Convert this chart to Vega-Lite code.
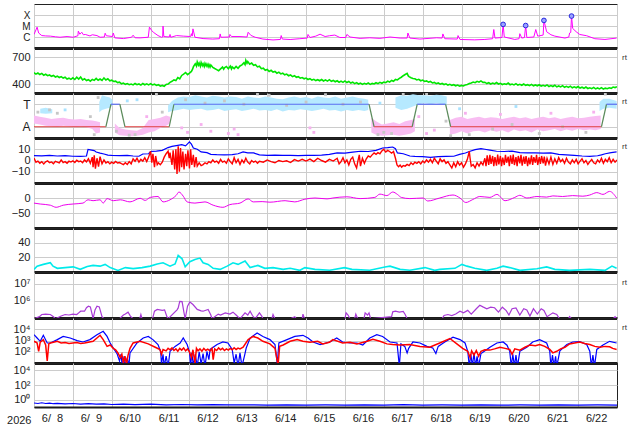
{
"$schema":"https://vega.github.io/schema/vega-lite/v6.json",
"padding":{"left":6,"top":3,"right":17,"bottom":0},
"background":"white",
"spacing":0,
"bounds":"flush",
"config":{
 "font":"Liberation Sans",
 "view":{"stroke":"#222","strokeWidth":1},
 "axis":{"ticks":false,"domain":false,"labelFont":"Liberation Sans","labelFontSize":11,"labelColor":"#222","gridColor":"#cccccc","gridWidth":1,"labelPadding":4,"titleFont":"Liberation Sans","labelOverlap":false},
 "axisX":{"domain":true,"domainColor":"#1a1a1a","domainWidth":3,"labels":false,"grid":true},
 "axisY":{"grid":true,"labelOverlap":false},
 "text":{"font":"Liberation Sans"},
 "legend":{"disable":true}
},
"datasets":{
"rt":[{"p":2,"d":23,"v":690},{"p":3,"d":23,"v":3.2},{"p":4,"d":23,"v":11.7},{"p":7,"d":23,"v":11700000},{"p":8,"d":23,"v":13000}],
"xray":[{"d":8.0,"v":1.7e-6},{"d":8.08,"v":7.9e-6},{"d":8.12,"v":2.3e-6},{"d":8.2,"v":1.35e-6},{"d":8.3,"v":1.25e-6},{"d":8.42,"v":1.2e-6},{"d":8.55,"v":1.05e-6},{"d":8.67,"v":9.5e-7},{"d":8.85,"v":1.1e-6},{"d":9.01,"v":9.5e-7},{"d":9.13,"v":1.3e-6},{"d":9.14,"v":3.4e-6},{"d":9.18,"v":1.8e-6},{"d":9.23,"v":2.7e-6},{"d":9.27,"v":1.6e-6},{"d":9.32,"v":1.7e-6},{"d":9.44,"v":1.25e-6},{"d":9.5,"v":1.6e-6},{"d":9.62,"v":1.35e-6},{"d":9.7,"v":9.5e-7},{"d":9.81,"v":1.0e-6},{"d":9.83,"v":2.2e-6},{"d":9.86,"v":1.3e-6},{"d":10.02,"v":1.1e-6},{"d":10.04,"v":2.3e-6},{"d":10.08,"v":8.3e-7},{"d":10.3,"v":7.2e-7},{"d":10.51,"v":9.5e-7},{"d":10.55,"v":1.45e-6},{"d":10.6,"v":8.5e-7},{"d":10.73,"v":8.3e-7},{"d":10.94,"v":9.5e-7},{"d":10.97,"v":7.9e-6},{"d":11.03,"v":3.8e-6},{"d":11.07,"v":2.7e-6},{"d":11.19,"v":1.35e-6},{"d":11.28,"v":9.5e-7},{"d":11.31,"v":1.0e-6},{"d":11.32,"v":9.8e-6},{"d":11.34,"v":1.1e-6},{"d":11.48,"v":1.0e-6},{"d":11.5,"v":1.7e-6},{"d":11.52,"v":9.5e-7},{"d":11.67,"v":1.35e-6},{"d":11.84,"v":1.2e-6},{"d":12.03,"v":1.1e-6},{"d":12.05,"v":2.0e-6},{"d":12.07,"v":1.2e-6},{"d":12.09,"v":5.5e-6},{"d":12.14,"v":9.5e-7},{"d":12.35,"v":7.2e-7},{"d":12.6,"v":6.5e-7},{"d":12.77,"v":7e-7},{"d":12.79,"v":1.9e-6},{"d":12.81,"v":9.5e-7},{"d":13.03,"v":1.0e-6},{"d":13.04,"v":1.7e-6},{"d":13.08,"v":1.1e-6},{"d":13.3,"v":1.1e-6},{"d":13.48,"v":1.0e-6},{"d":13.51,"v":2.7e-6},{"d":13.58,"v":1.4e-6},{"d":13.69,"v":9.5e-7},{"d":13.89,"v":6.5e-7},{"d":14.15,"v":5.4e-7},{"d":14.34,"v":6e-7},{"d":14.36,"v":1.35e-6},{"d":14.39,"v":6.5e-7},{"d":14.59,"v":5.9e-7},{"d":14.84,"v":7e-7},{"d":15.03,"v":8e-7},{"d":15.05,"v":1.7e-6},{"d":15.1,"v":9e-7},{"d":15.25,"v":1.2e-6},{"d":15.36,"v":1.8e-6},{"d":15.49,"v":1.1e-6},{"d":15.6,"v":1.3e-6},{"d":15.74,"v":1.5e-6},{"d":15.87,"v":9e-7},{"d":16.02,"v":9e-7},{"d":16.05,"v":1.7e-6},{"d":16.13,"v":1.0e-6},{"d":16.39,"v":7.5e-7},{"d":16.64,"v":8.5e-7},{"d":16.9,"v":7.5e-7},{"d":17.16,"v":1.0e-6},{"d":17.42,"v":8e-7},{"d":17.6,"v":8e-7},{"d":17.62,"v":2.3e-6},{"d":17.67,"v":8e-7},{"d":17.93,"v":6.5e-7},{"d":18.36,"v":8.5e-7},{"d":18.5,"v":8e-7},{"d":18.52,"v":1.9e-6},{"d":18.57,"v":7e-7},{"d":18.89,"v":6.5e-7},{"d":18.91,"v":1.35e-6},{"d":18.96,"v":6e-7},{"d":19.34,"v":5.5e-7},{"d":19.6,"v":6e-7},{"d":19.8,"v":7e-7},{"d":19.83,"v":4.8e-6},{"d":19.86,"v":8e-7},{"d":20.04,"v":9e-7},{"d":20.07,"v":1.4e-5},{"d":20.1,"v":1.0e-6},{"d":20.37,"v":6e-7},{"d":20.48,"v":7e-7},{"d":20.5,"v":2.0e-6},{"d":20.55,"v":8e-7},{"d":20.62,"v":9e-7},{"d":20.65,"v":1.1e-5},{"d":20.68,"v":9e-7},{"d":20.86,"v":1.0e-6},{"d":20.91,"v":4.8e-6},{"d":20.96,"v":1.2e-6},{"d":21.1,"v":1.5e-6},{"d":21.12,"v":3.2e-5},{"d":21.19,"v":3e-6},{"d":21.3,"v":1.6e-6},{"d":21.4,"v":1.2e-6},{"d":21.66,"v":8e-7},{"d":21.76,"v":1.0e-6},{"d":21.78,"v":2.3e-6},{"d":21.81,"v":2.6e-6},{"d":21.83,"v":8e-5},{"d":21.86,"v":6e-6},{"d":21.95,"v":3e-6},{"d":22.04,"v":1.7e-6},{"d":22.22,"v":1.3e-6},{"d":22.43,"v":7e-7},{"d":22.69,"v":6e-7},{"d":22.99,"v":8e-7}],
"flares":[{"d":20.07,"v":1.4e-5},{"d":20.65,"v":1.1e-5},{"d":21.12,"v":3.2e-5},{"d":21.83,"v":8e-5}],
"wind":[{"d":8.0,"v":525},{"d":8.05,"v":510},{"d":8.1,"v":522},{"d":8.15,"v":505},{"d":8.2,"v":518},{"d":8.25,"v":498},{"d":8.3,"v":508},{"d":8.35,"v":492},{"d":8.4,"v":500},{"d":8.45,"v":485},{"d":8.5,"v":495},{"d":8.55,"v":478},{"d":8.6,"v":487},{"d":8.65,"v":472},{"d":8.7,"v":482},{"d":8.75,"v":466},{"d":8.8,"v":476},{"d":8.85,"v":455},{"d":8.9,"v":465},{"d":8.95,"v":452},{"d":9.0,"v":468},{"d":9.05,"v":450},{"d":9.1,"v":475},{"d":9.15,"v":455},{"d":9.2,"v":478},{"d":9.25,"v":445},{"d":9.3,"v":458},{"d":9.35,"v":438},{"d":9.4,"v":448},{"d":9.45,"v":432},{"d":9.5,"v":450},{"d":9.55,"v":440},{"d":9.6,"v":462},{"d":9.65,"v":442},{"d":9.7,"v":455},{"d":9.75,"v":440},{"d":9.8,"v":468},{"d":9.85,"v":445},{"d":9.9,"v":458},{"d":9.95,"v":435},{"d":10.0,"v":442},{"d":10.05,"v":428},{"d":10.1,"v":432},{"d":10.15,"v":415},{"d":10.2,"v":420},{"d":10.25,"v":402},{"d":10.3,"v":410},{"d":10.35,"v":396},{"d":10.4,"v":405},{"d":10.45,"v":392},{"d":10.5,"v":400},{"d":10.55,"v":390},{"d":10.6,"v":406},{"d":10.65,"v":392},{"d":10.7,"v":400},{"d":10.75,"v":388},{"d":10.8,"v":406},{"d":10.85,"v":392},{"d":10.9,"v":402},{"d":10.95,"v":390},{"d":11.0,"v":404},{"d":11.05,"v":390},{"d":11.1,"v":398},{"d":11.15,"v":384},{"d":11.2,"v":392},{"d":11.25,"v":376},{"d":11.3,"v":384},{"d":11.35,"v":375},{"d":11.4,"v":395},{"d":11.45,"v":400},{"d":11.5,"v":418},{"d":11.55,"v":430},{"d":11.6,"v":445},{"d":11.65,"v":438},{"d":11.7,"v":472},{"d":11.75,"v":458},{"d":11.8,"v":495},{"d":11.85,"v":510},{"d":11.9,"v":528},{"d":11.95,"v":505},{"d":12.0,"v":522},{"d":12.05,"v":540},{"d":12.08,"v":565},{"d":12.1,"v":590},{"d":12.13,"v":612},{"d":12.15,"v":625},{"d":12.18,"v":600},{"d":12.2,"v":645},{"d":12.23,"v":610},{"d":12.25,"v":632},{"d":12.28,"v":598},{"d":12.3,"v":638},{"d":12.33,"v":605},{"d":12.35,"v":625},{"d":12.38,"v":595},{"d":12.4,"v":628},{"d":12.43,"v":600},{"d":12.45,"v":622},{"d":12.48,"v":592},{"d":12.5,"v":618},{"d":12.53,"v":588},{"d":12.55,"v":610},{"d":12.6,"v":585},{"d":12.65,"v":572},{"d":12.7,"v":560},{"d":12.75,"v":548},{"d":12.8,"v":568},{"d":12.85,"v":588},{"d":12.88,"v":565},{"d":12.9,"v":580},{"d":12.95,"v":595},{"d":13.0,"v":570},{"d":13.05,"v":598},{"d":13.08,"v":568},{"d":13.1,"v":590},{"d":13.15,"v":572},{"d":13.2,"v":596},{"d":13.25,"v":575},{"d":13.3,"v":600},{"d":13.35,"v":612},{"d":13.4,"v":635},{"d":13.43,"v":615},{"d":13.45,"v":662},{"d":13.48,"v":630},{"d":13.5,"v":650},{"d":13.55,"v":620},{"d":13.6,"v":632},{"d":13.65,"v":608},{"d":13.7,"v":615},{"d":13.75,"v":590},{"d":13.8,"v":598},{"d":13.85,"v":570},{"d":13.9,"v":575},{"d":13.95,"v":552},{"d":14.0,"v":562},{"d":14.05,"v":540},{"d":14.1,"v":552},{"d":14.15,"v":532},{"d":14.2,"v":540},{"d":14.25,"v":520},{"d":14.3,"v":532},{"d":14.35,"v":512},{"d":14.4,"v":520},{"d":14.45,"v":502},{"d":14.5,"v":510},{"d":14.55,"v":492},{"d":14.6,"v":500},{"d":14.65,"v":482},{"d":14.7,"v":492},{"d":14.75,"v":475},{"d":14.8,"v":482},{"d":14.85,"v":465},{"d":14.9,"v":472},{"d":14.95,"v":458},{"d":15.0,"v":466},{"d":15.05,"v":450},{"d":15.1,"v":460},{"d":15.15,"v":444},{"d":15.2,"v":452},{"d":15.25,"v":438},{"d":15.3,"v":448},{"d":15.35,"v":436},{"d":15.4,"v":450},{"d":15.45,"v":434},{"d":15.5,"v":446},{"d":15.55,"v":432},{"d":15.6,"v":448},{"d":15.65,"v":430},{"d":15.7,"v":440},{"d":15.75,"v":425},{"d":15.8,"v":436},{"d":15.85,"v":420},{"d":15.9,"v":432},{"d":15.95,"v":418},{"d":16.0,"v":434},{"d":16.05,"v":416},{"d":16.1,"v":428},{"d":16.15,"v":410},{"d":16.2,"v":420},{"d":16.25,"v":404},{"d":16.3,"v":415},{"d":16.35,"v":400},{"d":16.4,"v":410},{"d":16.45,"v":396},{"d":16.5,"v":408},{"d":16.55,"v":398},{"d":16.6,"v":412},{"d":16.65,"v":396},{"d":16.7,"v":406},{"d":16.75,"v":400},{"d":16.8,"v":414},{"d":16.85,"v":404},{"d":16.9,"v":418},{"d":16.95,"v":408},{"d":17.0,"v":422},{"d":17.05,"v":415},{"d":17.1,"v":432},{"d":17.15,"v":422},{"d":17.2,"v":440},{"d":17.25,"v":430},{"d":17.3,"v":450},{"d":17.35,"v":445},{"d":17.4,"v":462},{"d":17.45,"v":475},{"d":17.5,"v":492},{"d":17.55,"v":505},{"d":17.6,"v":518},{"d":17.63,"v":490},{"d":17.65,"v":482},{"d":17.7,"v":470},{"d":17.75,"v":462},{"d":17.8,"v":458},{"d":17.85,"v":445},{"d":17.9,"v":452},{"d":17.95,"v":436},{"d":18.0,"v":444},{"d":18.05,"v":428},{"d":18.1,"v":434},{"d":18.15,"v":420},{"d":18.2,"v":428},{"d":18.25,"v":412},{"d":18.3,"v":418},{"d":18.35,"v":404},{"d":18.4,"v":412},{"d":18.45,"v":398},{"d":18.5,"v":406},{"d":18.55,"v":394},{"d":18.6,"v":402},{"d":18.65,"v":388},{"d":18.7,"v":396},{"d":18.75,"v":385},{"d":18.8,"v":392},{"d":18.85,"v":380},{"d":18.9,"v":388},{"d":18.95,"v":376},{"d":19.0,"v":384},{"d":19.05,"v":378},{"d":19.1,"v":390},{"d":19.15,"v":395},{"d":19.2,"v":405},{"d":19.25,"v":412},{"d":19.3,"v":422},{"d":19.35,"v":415},{"d":19.4,"v":430},{"d":19.45,"v":420},{"d":19.5,"v":434},{"d":19.55,"v":418},{"d":19.6,"v":420},{"d":19.65,"v":405},{"d":19.7,"v":414},{"d":19.75,"v":400},{"d":19.8,"v":410},{"d":19.85,"v":402},{"d":19.9,"v":416},{"d":19.95,"v":400},{"d":20.0,"v":408},{"d":20.05,"v":394},{"d":20.1,"v":402},{"d":20.15,"v":396},{"d":20.2,"v":410},{"d":20.25,"v":392},{"d":20.3,"v":400},{"d":20.35,"v":390},{"d":20.4,"v":404},{"d":20.45,"v":388},{"d":20.5,"v":396},{"d":20.55,"v":386},{"d":20.6,"v":400},{"d":20.65,"v":385},{"d":20.7,"v":392},{"d":20.75,"v":382},{"d":20.8,"v":396},{"d":20.85,"v":380},{"d":20.9,"v":390},{"d":20.95,"v":380},{"d":21.0,"v":392},{"d":21.05,"v":377},{"d":21.1,"v":386},{"d":21.15,"v":376},{"d":21.2,"v":390},{"d":21.25,"v":372},{"d":21.3,"v":382},{"d":21.35,"v":372},{"d":21.4,"v":386},{"d":21.45,"v":368},{"d":21.5,"v":378},{"d":21.55,"v":368},{"d":21.6,"v":382},{"d":21.65,"v":364},{"d":21.7,"v":374},{"d":21.75,"v":362},{"d":21.8,"v":376},{"d":21.85,"v":358},{"d":21.9,"v":368},{"d":21.95,"v":358},{"d":22.0,"v":372},{"d":22.05,"v":355},{"d":22.1,"v":364},{"d":22.15,"v":352},{"d":22.2,"v":366},{"d":22.25,"v":350},{"d":22.3,"v":358},{"d":22.35,"v":348},{"d":22.4,"v":362},{"d":22.45,"v":346},{"d":22.5,"v":356},{"d":22.55,"v":346},{"d":22.6,"v":360},{"d":22.65,"v":344},{"d":22.7,"v":354},{"d":22.75,"v":348},{"d":22.8,"v":358},{"d":22.85,"v":352},{"d":22.9,"v":366},{"d":22.95,"v":360},{"d":23.0,"v":370}],
"band":[{"d":8.0,"lo":1.3,"hi":2.0,"s":"a1","c":"bA"},{"d":8.15,"lo":1.2,"hi":1.9,"s":"a1","c":"bA"},{"d":8.3,"lo":1.1,"hi":1.8,"s":"a1","c":"bA"},{"d":8.45,"lo":1.05,"hi":1.7,"s":"a1","c":"bA"},{"d":8.6,"lo":1.0,"hi":1.75,"s":"a1","c":"bA"},{"d":8.75,"lo":1.1,"hi":1.8,"s":"a1","c":"bA"},{"d":8.9,"lo":1.05,"hi":1.7,"s":"a1","c":"bA"},{"d":9.05,"lo":0.95,"hi":1.65,"s":"a1","c":"bA"},{"d":9.2,"lo":1.0,"hi":1.7,"s":"a1","c":"bA"},{"d":9.35,"lo":0.95,"hi":1.6,"s":"a1","c":"bA"},{"d":9.5,"lo":0.8,"hi":1.55,"s":"a1","c":"bA"},{"d":9.6,"lo":0.4,"hi":1.5,"s":"a1","c":"bA"},{"d":9.7,"lo":0.5,"hi":1.4,"s":"a1","c":"bA"},
{"d":8.16,"lo":2.2,"hi":2.6,"s":"t1","c":"bT"},{"d":8.3,"lo":2.15,"hi":2.7,"s":"t1","c":"bT"},{"d":8.47,"lo":2.2,"hi":2.55,"s":"t1","c":"bT"},
{"d":9.68,"lo":2.3,"hi":3.2,"s":"t2","c":"bT"},{"d":9.75,"lo":2.5,"hi":3.8,"s":"t2","c":"bT"},{"d":9.85,"lo":2.6,"hi":3.7,"s":"t2","c":"bT"},{"d":9.95,"lo":2.7,"hi":3.6,"s":"t2","c":"bT"},{"d":10.02,"lo":2.9,"hi":3.4,"s":"t2","c":"bT"},
{"d":10.08,"lo":0.5,"hi":1.3,"s":"a2","c":"bA"},{"d":10.2,"lo":0.25,"hi":0.9,"s":"a2","c":"bA"},{"d":10.35,"lo":0.2,"hi":0.75,"s":"a2","c":"bA"},{"d":10.5,"lo":0.15,"hi":0.7,"s":"a2","c":"bA"},{"d":10.65,"lo":0.2,"hi":0.65,"s":"a2","c":"bA"},{"d":10.8,"lo":0.3,"hi":0.9,"s":"a2","c":"bA"},{"d":10.95,"lo":0.5,"hi":1.6,"s":"a2","c":"bA"},{"d":11.1,"lo":0.6,"hi":1.7,"s":"a2","c":"bA"},{"d":11.25,"lo":0.9,"hi":1.8,"s":"a2","c":"bA"},{"d":11.4,"lo":1.1,"hi":2.0,"s":"a2","c":"bA"},{"d":11.5,"lo":1.3,"hi":1.9,"s":"a2","c":"bA"},
{"d":11.45,"lo":2.3,"hi":2.9,"s":"t3","c":"bT"},{"d":11.55,"lo":2.4,"hi":3.3,"s":"t3","c":"bT"},{"d":11.7,"lo":2.5,"hi":3.6,"s":"t3","c":"bT"},{"d":11.85,"lo":2.6,"hi":3.7,"s":"t3","c":"bT"},{"d":12.0,"lo":2.5,"hi":3.65,"s":"t3","c":"bT"},{"d":12.15,"lo":2.55,"hi":3.8,"s":"t3","c":"bT"},{"d":12.3,"lo":2.6,"hi":3.7,"s":"t3","c":"bT"},{"d":12.45,"lo":2.45,"hi":3.6,"s":"t3","c":"bT"},{"d":12.6,"lo":2.5,"hi":3.75,"s":"t3","c":"bT"},{"d":12.75,"lo":2.6,"hi":3.7,"s":"t3","c":"bT"},{"d":12.9,"lo":2.4,"hi":3.6,"s":"t3","c":"bT"},{"d":13.05,"lo":2.5,"hi":3.7,"s":"t3","c":"bT"},{"d":13.2,"lo":2.55,"hi":3.65,"s":"t3","c":"bT"},{"d":13.35,"lo":2.4,"hi":3.5,"s":"t3","c":"bT"},{"d":13.5,"lo":2.5,"hi":3.7,"s":"t3","c":"bT"},{"d":13.65,"lo":2.6,"hi":3.6,"s":"t3","c":"bT"},{"d":13.8,"lo":2.45,"hi":3.55,"s":"t3","c":"bT"},{"d":13.95,"lo":2.5,"hi":3.7,"s":"t3","c":"bT"},{"d":14.1,"lo":2.4,"hi":3.6,"s":"t3","c":"bT"},{"d":14.25,"lo":2.55,"hi":3.5,"s":"t3","c":"bT"},{"d":14.4,"lo":2.35,"hi":3.45,"s":"t3","c":"bT"},{"d":14.55,"lo":2.5,"hi":3.6,"s":"t3","c":"bT"},{"d":14.7,"lo":2.45,"hi":3.7,"s":"t3","c":"bT"},{"d":14.85,"lo":2.55,"hi":3.55,"s":"t3","c":"bT"},{"d":15.0,"lo":2.5,"hi":3.65,"s":"t3","c":"bT"},{"d":15.15,"lo":2.4,"hi":3.5,"s":"t3","c":"bT"},{"d":15.3,"lo":2.5,"hi":3.7,"s":"t3","c":"bT"},{"d":15.45,"lo":2.6,"hi":3.6,"s":"t3","c":"bT"},{"d":15.6,"lo":2.45,"hi":3.55,"s":"t3","c":"bT"},{"d":15.75,"lo":2.5,"hi":3.7,"s":"t3","c":"bT"},{"d":15.9,"lo":2.35,"hi":3.5,"s":"t3","c":"bT"},{"d":16.05,"lo":2.5,"hi":3.6,"s":"t3","c":"bT"},{"d":16.2,"lo":2.4,"hi":3.7,"s":"t3","c":"bT"},{"d":16.35,"lo":2.5,"hi":3.55,"s":"t3","c":"bT"},{"d":16.5,"lo":2.4,"hi":3.5,"s":"t3","c":"bT"},{"d":16.6,"lo":2.5,"hi":3.4,"s":"t3","c":"bT"},
{"d":16.68,"lo":0.5,"hi":1.8,"s":"a3","c":"bA"},{"d":16.8,"lo":0.3,"hi":1.5,"s":"a3","c":"bA"},{"d":16.95,"lo":0.2,"hi":1.2,"s":"a3","c":"bA"},{"d":17.1,"lo":0.25,"hi":1.3,"s":"a3","c":"bA"},{"d":17.25,"lo":0.3,"hi":1.4,"s":"a3","c":"bA"},{"d":17.4,"lo":0.2,"hi":1.25,"s":"a3","c":"bA"},{"d":17.55,"lo":0.3,"hi":1.5,"s":"a3","c":"bA"},{"d":17.7,"lo":0.4,"hi":1.6,"s":"a3","c":"bA"},{"d":17.8,"lo":0.6,"hi":1.7,"s":"a3","c":"bA"},
{"d":17.3,"lo":2.7,"hi":3.6,"s":"t4","c":"bT"},{"d":17.45,"lo":2.5,"hi":3.8,"s":"t4","c":"bT"},{"d":17.6,"lo":2.6,"hi":3.75,"s":"t4","c":"bT"},{"d":17.75,"lo":2.8,"hi":3.9,"s":"t4","c":"bT"},{"d":17.9,"lo":3.0,"hi":3.8,"s":"t4","c":"bT"},{"d":18.05,"lo":3.1,"hi":3.8,"s":"t4","c":"bT"},{"d":18.2,"lo":3.0,"hi":3.75,"s":"t4","c":"bT"},{"d":18.35,"lo":3.1,"hi":3.85,"s":"t4","c":"bT"},{"d":18.5,"lo":3.0,"hi":3.8,"s":"t4","c":"bT"},{"d":18.62,"lo":2.9,"hi":3.7,"s":"t4","c":"bT"},
{"d":18.7,"lo":0.3,"hi":1.6,"s":"a4","c":"bA"},{"d":18.85,"lo":0.4,"hi":1.8,"s":"a4","c":"bA"},{"d":19.0,"lo":0.6,"hi":1.9,"s":"a4","c":"bA"},{"d":19.15,"lo":0.4,"hi":1.7,"s":"a4","c":"bA"},{"d":19.3,"lo":0.6,"hi":1.8,"s":"a4","c":"bA"},{"d":19.45,"lo":0.65,"hi":1.9,"s":"a4","c":"bA"},{"d":19.6,"lo":0.5,"hi":1.75,"s":"a4","c":"bA"},{"d":19.75,"lo":0.7,"hi":1.85,"s":"a4","c":"bA"},{"d":19.9,"lo":0.55,"hi":1.8,"s":"a4","c":"bA"},{"d":20.05,"lo":0.7,"hi":1.7,"s":"a4","c":"bA"},{"d":20.2,"lo":0.5,"hi":1.8,"s":"a4","c":"bA"},{"d":20.35,"lo":0.75,"hi":1.9,"s":"a4","c":"bA"},{"d":20.5,"lo":0.6,"hi":1.75,"s":"a4","c":"bA"},{"d":20.65,"lo":0.7,"hi":1.85,"s":"a4","c":"bA"},{"d":20.8,"lo":0.5,"hi":1.7,"s":"a4","c":"bA"},{"d":20.95,"lo":0.75,"hi":1.8,"s":"a4","c":"bA"},{"d":21.1,"lo":0.6,"hi":1.9,"s":"a4","c":"bA"},{"d":21.25,"lo":0.7,"hi":1.75,"s":"a4","c":"bA"},{"d":21.4,"lo":0.8,"hi":1.85,"s":"a4","c":"bA"},{"d":21.55,"lo":0.6,"hi":1.7,"s":"a4","c":"bA"},{"d":21.7,"lo":0.75,"hi":1.8,"s":"a4","c":"bA"},{"d":21.85,"lo":0.65,"hi":1.9,"s":"a4","c":"bA"},{"d":22.0,"lo":0.8,"hi":1.75,"s":"a4","c":"bA"},{"d":22.15,"lo":0.7,"hi":1.8,"s":"a4","c":"bA"},{"d":22.3,"lo":0.75,"hi":1.9,"s":"a4","c":"bA"},{"d":22.45,"lo":0.7,"hi":1.95,"s":"a4","c":"bA"},{"d":22.58,"lo":0.8,"hi":2.0,"s":"a4","c":"bA"},
{"d":22.55,"lo":2.4,"hi":3.2,"s":"t5","c":"bT"},{"d":22.65,"lo":2.6,"hi":3.5,"s":"t5","c":"bT"},{"d":22.8,"lo":2.7,"hi":3.5,"s":"t5","c":"bT"},{"d":22.99,"lo":2.6,"hi":3.3,"s":"t5","c":"bT"}],
"scat":[{"d":8.1,"v":2.3,"c":"pG"},{"d":8.4,"v":2.5,"c":"pG"},{"d":8.6,"v":2.2,"c":"pG"},{"d":9.45,"v":1.9,"c":"pG"},{"d":9.55,"v":0.3,"c":"pG"},{"d":9.65,"v":3.6,"c":"pG"},{"d":10.12,"v":0.6,"c":"pG"},{"d":10.45,"v":0.25,"c":"pG"},{"d":10.6,"v":0.3,"c":"pG"},{"d":11.15,"v":3.9,"c":"pG"},{"d":11.3,"v":2.3,"c":"pG"},{"d":11.9,"v":3.4,"c":"pG"},{"d":12.4,"v":3.1,"c":"pG"},{"d":12.9,"v":3.3,"c":"pG"},{"d":13.4,"v":3.0,"c":"pG"},{"d":13.75,"v":3.9,"c":"pG"},{"d":14.05,"v":3.8,"c":"pG"},{"d":14.5,"v":2.9,"c":"pG"},{"d":15.0,"v":3.2,"c":"pG"},{"d":15.5,"v":3.85,"c":"pG"},{"d":15.95,"v":3.0,"c":"pG"},{"d":16.4,"v":3.2,"c":"pG"},{"d":16.85,"v":0.3,"c":"pG"},{"d":17.0,"v":0.5,"c":"pG"},{"d":17.2,"v":0.4,"c":"pG"},{"d":17.5,"v":3.9,"c":"pG"},{"d":18.1,"v":3.95,"c":"pG"},{"d":18.6,"v":1.5,"c":"pG"},{"d":18.72,"v":0.2,"c":"pG"},{"d":19.2,"v":0.3,"c":"pG"},{"d":19.8,"v":0.8,"c":"pG"},{"d":20.3,"v":1.2,"c":"pG"},{"d":21.0,"v":0.4,"c":"pG"},{"d":21.6,"v":1.0,"c":"pG"},{"d":22.2,"v":0.5,"c":"pG"},{"d":22.7,"v":3.9,"c":"pG"},
{"d":10.9,"v":1.9,"c":"pA"},{"d":11.8,"v":0.9,"c":"pA"},{"d":11.95,"v":0.5,"c":"pA"},{"d":12.3,"v":1.2,"c":"pA"},{"d":12.55,"v":0.6,"c":"pA"},{"d":13.0,"v":0.4,"c":"pA"},{"d":13.15,"v":0.8,"c":"pA"},{"d":13.25,"v":0.3,"c":"pA"},{"d":15.1,"v":0.9,"c":"pA"},{"d":15.2,"v":0.5,"c":"pA"},{"d":17.9,"v":1.9,"c":"pA"},{"d":18.1,"v":0.4,"c":"pA"},{"d":18.3,"v":0.7,"c":"pA"},{"d":19.1,"v":2.2,"c":"pA"},{"d":20.0,"v":2.1,"c":"pA"},{"d":21.3,"v":2.2,"c":"pA"},{"d":22.4,"v":2.3,"c":"pA"},
{"d":8.8,"v":2.5,"c":"pT"},{"d":10.4,"v":3.3,"c":"pT"},{"d":10.65,"v":3.4,"c":"pT"},{"d":16.9,"v":3.1,"c":"pT"},{"d":18.95,"v":2.6,"c":"pT"},{"d":20.4,"v":2.8,"c":"pT"}],
"sector":[{"d":8.0,"v":1,"s":"a1","k":"lA"},{"d":9.85,"v":1,"s":"a1","k":"lA"},{"d":9.85,"v":1,"s":"r1","k":"lR"},{"d":9.98,"v":3,"s":"r1","k":"lR"},{"d":9.98,"v":3,"s":"t1","k":"lT"},{"d":10.21,"v":3,"s":"t1","k":"lT"},{"d":10.21,"v":3,"s":"r2","k":"lR"},{"d":10.34,"v":1,"s":"r2","k":"lR"},{"d":10.34,"v":1,"s":"a2","k":"lA"},{"d":11.48,"v":1,"s":"a2","k":"lA"},{"d":11.48,"v":1,"s":"r3","k":"lR"},{"d":11.6,"v":3,"s":"r3","k":"lR"},{"d":11.6,"v":3,"s":"t2","k":"lT"},{"d":16.62,"v":3,"s":"t2","k":"lT"},{"d":16.62,"v":3,"s":"r4","k":"lR"},{"d":16.75,"v":1,"s":"r4","k":"lR"},{"d":16.75,"v":1,"s":"a3","k":"lA"},{"d":17.73,"v":1,"s":"a3","k":"lA"},{"d":17.73,"v":1,"s":"r5","k":"lR"},{"d":17.86,"v":3,"s":"r5","k":"lR"},{"d":17.86,"v":3,"s":"t3","k":"lT"},{"d":18.59,"v":3,"s":"t3","k":"lT"},{"d":18.59,"v":3,"s":"r6","k":"lR"},{"d":18.72,"v":1,"s":"r6","k":"lR"},{"d":18.72,"v":1,"s":"a4","k":"lA"},{"d":22.6,"v":1,"s":"a4","k":"lA"},{"d":22.6,"v":1,"s":"r7","k":"lR"},{"d":22.73,"v":3,"s":"r7","k":"lR"},{"d":22.73,"v":3,"s":"t4","k":"lT"},{"d":23.0,"v":3,"s":"t4","k":"lT"}],
"bt":[{"d":8.0,"v":4.4},{"d":8.2,"v":4.2},{"d":8.4,"v":4.5},{"d":8.6,"v":4.0},{"d":8.8,"v":4.3},{"d":9.0,"v":3.8},{"d":9.2,"v":3.7},{"d":9.35,"v":4.0},{"d":9.39,"v":9.8},{"d":9.45,"v":9.5},{"d":9.55,"v":8.8},{"d":9.6,"v":7.5},{"d":9.7,"v":6.5},{"d":9.8,"v":5.8},{"d":9.9,"v":4.8},{"d":10.0,"v":4.6},{"d":10.2,"v":4.4},{"d":10.4,"v":4.6},{"d":10.55,"v":4.0},{"d":10.7,"v":3.8},{"d":10.8,"v":5.8},{"d":10.95,"v":6.0},{"d":11.0,"v":8.0},{"d":11.15,"v":8.4},{"d":11.3,"v":9.0},{"d":11.45,"v":11.5},{"d":11.55,"v":12.6},{"d":11.7,"v":13.5},{"d":11.8,"v":14.1},{"d":11.9,"v":13.0},{"d":12.0,"v":16.5},{"d":12.05,"v":14.5},{"d":12.1,"v":11.1},{"d":12.2,"v":10.0},{"d":12.3,"v":7.6},{"d":12.45,"v":7.0},{"d":12.55,"v":5.5},{"d":12.7,"v":5.2},{"d":12.9,"v":5.0},{"d":13.1,"v":5.3},{"d":13.25,"v":6.0},{"d":13.38,"v":7.6},{"d":13.5,"v":6.8},{"d":13.65,"v":6.7},{"d":13.8,"v":5.0},{"d":14.0,"v":4.6},{"d":14.2,"v":4.8},{"d":14.4,"v":4.5},{"d":14.6,"v":4.6},{"d":14.8,"v":4.4},{"d":15.0,"v":4.6},{"d":15.2,"v":4.5},{"d":15.4,"v":4.7},{"d":15.6,"v":5.5},{"d":15.8,"v":6.7},{"d":16.0,"v":6.5},{"d":16.2,"v":7.5},{"d":16.4,"v":8.2},{"d":16.6,"v":8.0},{"d":16.8,"v":9.0},{"d":16.97,"v":11.1},{"d":17.1,"v":11.5},{"d":17.23,"v":12.0},{"d":17.3,"v":10.5},{"d":17.35,"v":6.7},{"d":17.5,"v":6.0},{"d":17.67,"v":4.0},{"d":17.8,"v":3.7},{"d":18.0,"v":3.5},{"d":18.2,"v":2.8},{"d":18.4,"v":3.5},{"d":18.6,"v":3.7},{"d":18.8,"v":3.8},{"d":18.95,"v":5.5},{"d":19.1,"v":6.7},{"d":19.2,"v":8.0},{"d":19.35,"v":9.7},{"d":19.5,"v":10.6},{"d":19.6,"v":10.0},{"d":19.73,"v":9.2},{"d":19.9,"v":8.2},{"d":20.1,"v":8.0},{"d":20.3,"v":8.4},{"d":20.5,"v":7.0},{"d":20.7,"v":6.7},{"d":20.9,"v":6.8},{"d":21.1,"v":6.5},{"d":21.3,"v":6.7},{"d":21.5,"v":5.5},{"d":21.7,"v":5.0},{"d":21.9,"v":4.5},{"d":22.1,"v":4.0},{"d":22.3,"v":3.7},{"d":22.5,"v":4.2},{"d":22.6,"v":5.0},{"d":22.7,"v":6.0},{"d":22.85,"v":7.0},{"d":22.99,"v":7.6}],
"bz":[{"d":8.0,"v":2.2},{"d":8.05,"v":-1.5},{"d":8.1,"v":-0.5},{"d":8.15,"v":-2.5},{"d":8.2,"v":-1.0},{"d":8.25,"v":-3.0},{"d":8.3,"v":-1.2},{"d":8.35,"v":-0.4},{"d":8.4,"v":-2.0},{"d":8.45,"v":-1.3},{"d":8.5,"v":-2.8},{"d":8.55,"v":-0.8},{"d":8.6,"v":-1.5},{"d":8.65,"v":-2.2},{"d":8.7,"v":0.5},{"d":8.75,"v":-1.8},{"d":8.8,"v":-1.0},{"d":8.85,"v":-2.5},{"d":8.9,"v":-0.6},{"d":8.95,"v":-1.4},{"d":9.0,"v":-0.3},{"d":9.05,"v":-1.8},{"d":9.1,"v":0.2},{"d":9.15,"v":-1.0},{"d":9.2,"v":-0.5},{"d":9.25,"v":-2.0},{"d":9.3,"v":0.5},{"d":9.35,"v":-1.2},{"d":9.4,"v":1.5},{"d":9.45,"v":-2.5},{"d":9.5,"v":3.0},{"d":9.52,"v":-6.0},{"d":9.55,"v":4.6},{"d":9.58,"v":-7.2},{"d":9.62,"v":2.0},{"d":9.66,"v":-5.5},{"d":9.7,"v":3.5},{"d":9.75,"v":-3.0},{"d":9.8,"v":0.5},{"d":9.85,"v":-2.2},{"d":9.9,"v":-1.0},{"d":9.95,"v":-3.0},{"d":10.0,"v":-1.5},{"d":10.05,"v":-2.5},{"d":10.1,"v":-0.8},{"d":10.15,"v":-2.2},{"d":10.2,"v":-1.8},{"d":10.25,"v":-2.8},{"d":10.3,"v":-3.6},{"d":10.35,"v":-2.0},{"d":10.4,"v":-3.5},{"d":10.45,"v":-1.0},{"d":10.5,"v":-3.0},{"d":10.55,"v":1.5},{"d":10.6,"v":-0.7},{"d":10.65,"v":2.0},{"d":10.7,"v":-1.5},{"d":10.75,"v":1.0},{"d":10.8,"v":-0.5},{"d":10.85,"v":2.5},{"d":10.9,"v":-1.0},{"d":10.95,"v":3.0},{"d":11.0,"v":8.2},{"d":11.03,"v":-2.0},{"d":11.06,"v":6.0},{"d":11.1,"v":-6.0},{"d":11.13,"v":4.0},{"d":11.17,"v":-3.6},{"d":11.2,"v":-2.0},{"d":11.25,"v":-3.8},{"d":11.3,"v":-1.5},{"d":11.35,"v":3.0},{"d":11.4,"v":6.0},{"d":11.45,"v":8.2},{"d":11.48,"v":2.0},{"d":11.5,"v":7.0},{"d":11.55,"v":-4.0},{"d":11.58,"v":9.0},{"d":11.62,"v":-8.0},{"d":11.65,"v":10.0},{"d":11.68,"v":-12.0},{"d":11.71,"v":12.6},{"d":11.74,"v":-10.0},{"d":11.77,"v":11.0},{"d":11.8,"v":-6.0},{"d":11.83,"v":8.0},{"d":11.86,"v":-8.0},{"d":11.9,"v":6.0},{"d":11.93,"v":-5.0},{"d":11.96,"v":9.0},{"d":12.0,"v":-7.0},{"d":12.03,"v":10.0},{"d":12.06,"v":-4.0},{"d":12.1,"v":5.0},{"d":12.13,"v":-6.0},{"d":12.17,"v":3.0},{"d":12.2,"v":-5.0},{"d":12.25,"v":-2.0},{"d":12.3,"v":-4.5},{"d":12.35,"v":-3.6},{"d":12.4,"v":-2.0},{"d":12.45,"v":-3.0},{"d":12.5,"v":-1.0},{"d":12.55,"v":-2.0},{"d":12.6,"v":0.5},{"d":12.65,"v":-1.5},{"d":12.7,"v":-0.5},{"d":12.75,"v":-2.5},{"d":12.8,"v":1.0},{"d":12.85,"v":-1.5},{"d":12.9,"v":-0.5},{"d":12.95,"v":-2.5},{"d":13.0,"v":1.5},{"d":13.05,"v":-1.0},{"d":13.1,"v":-3.0},{"d":13.15,"v":2.5},{"d":13.2,"v":-2.0},{"d":13.25,"v":1.0},{"d":13.3,"v":-3.5},{"d":13.35,"v":0.5},{"d":13.4,"v":-2.0},{"d":13.45,"v":2.0},{"d":13.5,"v":-1.5},{"d":13.55,"v":-3.0},{"d":13.6,"v":0.0},{"d":13.65,"v":-1.5},{"d":13.7,"v":-0.5},{"d":13.75,"v":-2.5},{"d":13.8,"v":-0.7},{"d":13.9,"v":-1.5},{"d":14.0,"v":0.5},{"d":14.1,"v":-1.0},{"d":14.2,"v":-2.0},{"d":14.3,"v":0.0},{"d":14.4,"v":-1.0},{"d":14.5,"v":-0.3},{"d":14.6,"v":-1.8},{"d":14.7,"v":0.8},{"d":14.8,"v":-0.5},{"d":14.9,"v":1.0},{"d":15.0,"v":-0.5},{"d":15.1,"v":1.2},{"d":15.2,"v":-1.0},{"d":15.3,"v":2.0},{"d":15.4,"v":0.0},{"d":15.5,"v":-1.5},{"d":15.6,"v":1.0},{"d":15.7,"v":-0.5},{"d":15.8,"v":2.0},{"d":15.85,"v":-3.0},{"d":15.9,"v":-1.0},{"d":15.95,"v":2.5},{"d":16.0,"v":-2.0},{"d":16.05,"v":0.5},{"d":16.1,"v":-4.0},{"d":16.15,"v":1.0},{"d":16.2,"v":3.0},{"d":16.25,"v":-3.0},{"d":16.3,"v":-6.7},{"d":16.33,"v":-1.0},{"d":16.37,"v":5.0},{"d":16.4,"v":-5.0},{"d":16.45,"v":2.0},{"d":16.5,"v":-2.5},{"d":16.55,"v":1.5},{"d":16.6,"v":4.0},{"d":16.65,"v":3.0},{"d":16.7,"v":5.0},{"d":16.75,"v":6.7},{"d":16.8,"v":5.5},{"d":16.85,"v":7.0},{"d":16.9,"v":6.0},{"d":16.95,"v":8.5},{"d":17.0,"v":10.0},{"d":17.05,"v":7.5},{"d":17.1,"v":9.0},{"d":17.15,"v":8.0},{"d":17.2,"v":6.5},{"d":17.25,"v":8.0},{"d":17.3,"v":2.0},{"d":17.34,"v":-4.0},{"d":17.38,"v":-5.5},{"d":17.42,"v":-4.0},{"d":17.46,"v":-6.0},{"d":17.5,"v":-4.5},{"d":17.55,"v":-5.0},{"d":17.6,"v":-3.5},{"d":17.65,"v":-4.5},{"d":17.7,"v":-2.0},{"d":17.75,"v":-3.5},{"d":17.8,"v":-1.5},{"d":17.85,"v":-2.5},{"d":17.9,"v":-1.0},{"d":17.95,"v":-3.0},{"d":18.0,"v":-0.5},{"d":18.05,"v":-2.0},{"d":18.1,"v":0.5},{"d":18.15,"v":-1.5},{"d":18.2,"v":1.0},{"d":18.25,"v":-2.0},{"d":18.3,"v":2.0},{"d":18.35,"v":-0.5},{"d":18.4,"v":-3.0},{"d":18.45,"v":1.5},{"d":18.5,"v":-1.0},{"d":18.55,"v":0.5},{"d":18.6,"v":-2.5},{"d":18.65,"v":-1.0},{"d":18.7,"v":-4.0},{"d":18.75,"v":-6.7},{"d":18.8,"v":-2.0},{"d":18.85,"v":-5.5},{"d":18.9,"v":-1.0},{"d":18.95,"v":-4.0},{"d":19.0,"v":-2.0},{"d":19.05,"v":-6.0},{"d":19.1,"v":-3.0},{"d":19.15,"v":1.0},{"d":19.2,"v":8.2},{"d":19.22,"v":2.0},{"d":19.25,"v":-5.0},{"d":19.3,"v":-3.6},{"d":19.35,"v":-6.5},{"d":19.4,"v":-2.0},{"d":19.45,"v":-5.0},{"d":19.5,"v":-1.5},{"d":19.55,"v":-4.0},{"d":19.6,"v":2.0},{"d":19.63,"v":-5.0},{"d":19.66,"v":4.5},{"d":19.7,"v":-4.0},{"d":19.73,"v":5.0},{"d":19.76,"v":-3.0},{"d":19.8,"v":4.0},{"d":19.83,"v":-5.0},{"d":19.86,"v":3.0},{"d":19.9,"v":-4.5},{"d":19.93,"v":5.2},{"d":19.96,"v":-3.5},{"d":20.0,"v":4.0},{"d":20.03,"v":-5.0},{"d":20.06,"v":2.5},{"d":20.1,"v":-4.0},{"d":20.13,"v":5.0},{"d":20.16,"v":-2.0},{"d":20.2,"v":3.5},{"d":20.23,"v":-5.0},{"d":20.26,"v":4.5},{"d":20.3,"v":-3.0},{"d":20.33,"v":5.2},{"d":20.36,"v":-4.0},{"d":20.4,"v":3.0},{"d":20.43,"v":-5.0},{"d":20.46,"v":4.0},{"d":20.5,"v":-2.5},{"d":20.53,"v":5.0},{"d":20.56,"v":-4.5},{"d":20.6,"v":3.5},{"d":20.63,"v":-3.0},{"d":20.66,"v":4.0},{"d":20.7,"v":-5.0},{"d":20.73,"v":2.5},{"d":20.76,"v":-3.5},{"d":20.8,"v":4.5},{"d":20.83,"v":-4.0},{"d":20.86,"v":3.0},{"d":20.9,"v":-2.0},{"d":20.93,"v":5.0},{"d":20.96,"v":-4.0},{"d":21.0,"v":3.0},{"d":21.03,"v":-3.0},{"d":21.06,"v":4.0},{"d":21.1,"v":-2.5},{"d":21.13,"v":3.5},{"d":21.16,"v":-4.5},{"d":21.2,"v":2.0},{"d":21.25,"v":-3.0},{"d":21.3,"v":3.0},{"d":21.35,"v":-3.5},{"d":21.4,"v":1.5},{"d":21.45,"v":-2.5},{"d":21.5,"v":2.5},{"d":21.55,"v":-1.0},{"d":21.6,"v":1.0},{"d":21.65,"v":-2.5},{"d":21.7,"v":2.0},{"d":21.75,"v":-1.5},{"d":21.8,"v":-3.0},{"d":21.85,"v":0.5},{"d":21.9,"v":-2.0},{"d":21.95,"v":1.0},{"d":22.0,"v":-3.0},{"d":22.05,"v":-0.5},{"d":22.1,"v":1.5},{"d":22.15,"v":-2.0},{"d":22.2,"v":0.0},{"d":22.25,"v":-3.5},{"d":22.3,"v":-1.0},{"d":22.35,"v":1.0},{"d":22.4,"v":-2.0},{"d":22.45,"v":-3.0},{"d":22.5,"v":0.5},{"d":22.55,"v":-1.5},{"d":22.6,"v":2.0},{"d":22.65,"v":-2.5},{"d":22.7,"v":1.0},{"d":22.75,"v":-1.0},{"d":22.8,"v":2.5},{"d":22.85,"v":-2.0},{"d":22.9,"v":1.0},{"d":22.95,"v":-1.5},{"d":23.0,"v":0.5}],
"dst":[{"d":8.0,"v":-17},{"d":8.16,"v":-20},{"d":8.42,"v":-24},{"d":8.57,"v":-31},{"d":8.75,"v":-24},{"d":9.01,"v":-20},{"d":9.26,"v":-17},{"d":9.39,"v":-6},{"d":9.52,"v":-9},{"d":9.7,"v":-6},{"d":9.78,"v":-17},{"d":9.88,"v":-2},{"d":10.04,"v":-9},{"d":10.22,"v":-6},{"d":10.47,"v":-13},{"d":10.73,"v":-1},{"d":10.86,"v":-8},{"d":10.99,"v":2},{"d":11.19,"v":5},{"d":11.32,"v":-13},{"d":11.5,"v":-6},{"d":11.66,"v":9},{"d":11.73,"v":20},{"d":11.84,"v":6},{"d":11.94,"v":-13},{"d":12.14,"v":-17},{"d":12.4,"v":-13},{"d":12.61,"v":-24},{"d":12.86,"v":-31},{"d":13.04,"v":-22},{"d":13.3,"v":-17},{"d":13.51,"v":-3},{"d":13.64,"v":-13},{"d":13.87,"v":-12},{"d":14.07,"v":-14},{"d":14.46,"v":-9},{"d":14.71,"v":-13},{"d":14.97,"v":-4},{"d":15.23,"v":0},{"d":15.54,"v":-3},{"d":15.69,"v":0},{"d":16.05,"v":4},{"d":16.39,"v":-2},{"d":16.77,"v":2},{"d":16.9,"v":13},{"d":17.08,"v":8},{"d":17.23,"v":20},{"d":17.35,"v":12},{"d":17.45,"v":2},{"d":17.67,"v":-2},{"d":18.01,"v":0},{"d":18.13,"v":-10},{"d":18.44,"v":0},{"d":18.78,"v":10},{"d":18.96,"v":0},{"d":19.11,"v":-15},{"d":19.29,"v":-5},{"d":19.47,"v":5},{"d":19.73,"v":2},{"d":19.91,"v":12},{"d":20.12,"v":-9},{"d":20.37,"v":2},{"d":20.5,"v":9},{"d":20.68,"v":0},{"d":20.94,"v":5},{"d":21.19,"v":3},{"d":21.35,"v":7},{"d":21.6,"v":5},{"d":21.86,"v":8},{"d":22.12,"v":6},{"d":22.3,"v":10},{"d":22.48,"v":18},{"d":22.64,"v":12},{"d":22.81,"v":22},{"d":22.99,"v":0}],
"cyan":[{"d":8.0,"v":3.6},{"d":8.08,"v":8},{"d":8.24,"v":10.4},{"d":8.42,"v":12.6},{"d":8.49,"v":8},{"d":8.6,"v":5},{"d":8.8,"v":6},{"d":9.01,"v":7},{"d":9.19,"v":3.6},{"d":9.37,"v":7.4},{"d":9.52,"v":9},{"d":9.7,"v":8},{"d":9.83,"v":10.4},{"d":9.96,"v":6},{"d":10.16,"v":2.2},{"d":10.35,"v":6},{"d":10.55,"v":4.6},{"d":10.78,"v":6},{"d":10.99,"v":8},{"d":11.17,"v":11},{"d":11.32,"v":12.6},{"d":11.5,"v":8},{"d":11.63,"v":11},{"d":11.71,"v":22.6},{"d":11.81,"v":18},{"d":11.89,"v":7},{"d":12.01,"v":14},{"d":12.14,"v":17},{"d":12.27,"v":19},{"d":12.35,"v":12.6},{"d":12.48,"v":10.4},{"d":12.61,"v":5},{"d":12.79,"v":3.6},{"d":12.97,"v":8},{"d":13.12,"v":12.6},{"d":13.25,"v":10.4},{"d":13.43,"v":15},{"d":13.56,"v":6},{"d":13.76,"v":9},{"d":13.94,"v":5},{"d":14.15,"v":6},{"d":14.41,"v":3.6},{"d":14.59,"v":5},{"d":14.84,"v":2.3},{"d":14.97,"v":6},{"d":15.23,"v":3.6},{"d":15.61,"v":2.3},{"d":15.99,"v":6},{"d":16.18,"v":3.6},{"d":16.64,"v":2.3},{"d":17.03,"v":6.8},{"d":17.16,"v":8},{"d":17.42,"v":3.6},{"d":17.67,"v":2.3},{"d":18.06,"v":6},{"d":18.31,"v":2.3},{"d":18.44,"v":3.6},{"d":18.83,"v":5},{"d":19.01,"v":10.4},{"d":19.14,"v":8},{"d":19.34,"v":5},{"d":19.65,"v":2.2},{"d":19.91,"v":5},{"d":20.07,"v":8},{"d":20.24,"v":6},{"d":20.5,"v":2.2},{"d":20.94,"v":4.5},{"d":21.19,"v":7},{"d":21.4,"v":3.6},{"d":21.78,"v":2.2},{"d":22.3,"v":3.6},{"d":22.69,"v":2.2},{"d":22.87,"v":8},{"d":22.99,"v":5}],
"elec":[{"d":8.0,"v":9e4},{"d":8.14,"v":1.2e5},{"d":8.2,"v":1.6e5},{"d":8.3,"v":1.7e5},{"d":8.42,"v":1.6e5},{"d":8.5,"v":1.2e5},{"d":8.55,"v":9e4},{"d":8.7,"v":1.3e5},{"d":8.8,"v":1.6e5},{"d":8.9,"v":1.5e5},{"d":9.0,"v":1.7e5},{"d":9.1,"v":1.6e5},{"d":9.15,"v":2.0e5},{"d":9.2,"v":2.5e5},{"d":9.3,"v":2.5e5},{"d":9.35,"v":4.0e5},{"d":9.4,"v":4.9e5},{"d":9.45,"v":4.5e5},{"d":9.5,"v":1.5e5},{"d":9.52,"v":9e4},{"d":9.57,"v":3e5},{"d":9.62,"v":4.9e5},{"d":9.68,"v":4.5e5},{"d":9.75,"v":1.2e5},{"d":9.8,"v":9e4},{"d":10.2,"v":9e4},{"d":10.3,"v":1.5e5},{"d":10.35,"v":1.7e5},{"d":10.42,"v":2.2e5},{"d":10.48,"v":1.3e5},{"d":10.55,"v":9e4},{"d":10.72,"v":9e4},{"d":10.75,"v":1.6e5},{"d":10.78,"v":9e4},{"d":11.05,"v":9e4},{"d":11.1,"v":2.5e5},{"d":11.17,"v":3.2e5},{"d":11.3,"v":2.8e5},{"d":11.36,"v":3.0e5},{"d":11.42,"v":1.2e5},{"d":11.45,"v":9e4},{"d":11.68,"v":3.0e5},{"d":11.71,"v":3.9e5},{"d":11.75,"v":9.5e5},{"d":11.81,"v":9.1e5},{"d":11.86,"v":2e5},{"d":11.89,"v":9e4},{"d":11.95,"v":5e5},{"d":12.01,"v":8.7e5},{"d":12.09,"v":6.2e5},{"d":12.2,"v":3.2e5},{"d":12.3,"v":2.6e5},{"d":12.35,"v":2.5e5},{"d":12.48,"v":3.2e5},{"d":12.55,"v":1.5e5},{"d":12.58,"v":9e4},{"d":12.74,"v":1.7e5},{"d":12.8,"v":1.5e5},{"d":12.92,"v":2.0e5},{"d":13.04,"v":1.7e5},{"d":13.12,"v":2.2e5},{"d":13.2,"v":1.5e5},{"d":13.3,"v":9e4},{"d":13.43,"v":2.0e5},{"d":13.5,"v":1.5e5},{"d":13.56,"v":2.5e5},{"d":13.62,"v":1.4e5},{"d":13.69,"v":9e4},{"d":13.8,"v":2.0e5},{"d":13.86,"v":1.3e5},{"d":13.89,"v":9e4},{"d":14.12,"v":9e4},{"d":14.15,"v":1.6e5},{"d":14.2,"v":9e4},{"d":14.6,"v":9e4},{"d":14.71,"v":1.2e5},{"d":14.75,"v":9e4},{"d":14.9,"v":9e4},{"d":14.92,"v":1.7e5},{"d":14.96,"v":9e4},{"d":16.0,"v":9e4},{"d":16.03,"v":2e5},{"d":16.08,"v":1.5e5},{"d":16.13,"v":9e4},{"d":16.25,"v":9e4},{"d":16.28,"v":1.7e5},{"d":16.33,"v":9e4},{"d":16.49,"v":9e4},{"d":16.52,"v":2e5},{"d":16.58,"v":1.5e5},{"d":16.62,"v":2e5},{"d":16.66,"v":9e4},{"d":17.2,"v":1.2e5},{"d":17.23,"v":2.3e5},{"d":17.3,"v":2.5e5},{"d":17.4,"v":2.2e5},{"d":17.5,"v":2.4e5},{"d":17.55,"v":1.6e5},{"d":17.6,"v":9e4},{"d":18.5,"v":9e4},{"d":18.55,"v":1.4e5},{"d":18.65,"v":1.6e5},{"d":18.75,"v":1.4e5},{"d":18.85,"v":1.7e5},{"d":18.96,"v":2.5e5},{"d":19.05,"v":2.0e5},{"d":19.16,"v":2.8e5},{"d":19.25,"v":1.7e5},{"d":19.38,"v":3.5e5},{"d":19.47,"v":5.6e5},{"d":19.55,"v":4.5e5},{"d":19.65,"v":3.5e5},{"d":19.75,"v":4.3e5},{"d":19.85,"v":4.0e5},{"d":19.95,"v":2.2e5},{"d":20.05,"v":4.3e5},{"d":20.15,"v":2.7e5},{"d":20.22,"v":1.5e5},{"d":20.3,"v":3.5e5},{"d":20.4,"v":3.9e5},{"d":20.5,"v":1.5e5},{"d":20.6,"v":3.5e5},{"d":20.68,"v":3.0e5},{"d":20.76,"v":1.3e5},{"d":20.85,"v":3.5e5},{"d":20.95,"v":1.7e5},{"d":21.05,"v":3.5e5},{"d":21.12,"v":2.8e5},{"d":21.2,"v":1.2e5},{"d":21.35,"v":2.0e5},{"d":21.45,"v":1.6e5},{"d":21.52,"v":9e4},{"d":21.75,"v":9e4},{"d":21.78,"v":1.2e5},{"d":21.83,"v":9e4},{"d":22.9,"v":9e4},{"d":22.95,"v":1.2e5},{"d":23.0,"v":9e4}],
"pb":[{"d":8.0,"v":3300},{"d":8.08,"v":1660},{"d":8.16,"v":850},{"d":8.24,"v":2900},{"d":8.34,"v":600},{"d":8.42,"v":600},{"d":8.6,"v":1200},{"d":8.75,"v":2300},{"d":8.93,"v":1660},{"d":9.11,"v":980},{"d":9.26,"v":740},{"d":9.44,"v":1200},{"d":9.62,"v":3300},{"d":9.78,"v":6600},{"d":9.88,"v":2300},{"d":9.96,"v":600},{"d":10.04,"v":215},{"d":10.14,"v":63},{"d":10.2,"v":15},{"d":10.24,"v":60},{"d":10.27,"v":5},{"d":10.32,"v":40},{"d":10.35,"v":5},{"d":10.4,"v":30},{"d":10.44,"v":5},{"d":10.47,"v":78},{"d":10.65,"v":600},{"d":10.81,"v":1660},{"d":10.94,"v":2300},{"d":11.06,"v":1200},{"d":11.19,"v":440},{"d":11.26,"v":100},{"d":11.28,"v":8},{"d":11.32,"v":60},{"d":11.35,"v":5},{"d":11.4,"v":40},{"d":11.45,"v":5},{"d":11.5,"v":110},{"d":11.63,"v":300},{"d":11.76,"v":600},{"d":11.84,"v":1660},{"d":11.94,"v":440},{"d":12.0,"v":100},{"d":12.03,"v":5},{"d":12.06,"v":80},{"d":12.1,"v":6},{"d":12.15,"v":60},{"d":12.2,"v":5},{"d":12.25,"v":100},{"d":12.3,"v":8},{"d":12.35,"v":70},{"d":12.4,"v":5},{"d":12.45,"v":110},{"d":12.5,"v":20},{"d":12.53,"v":160},{"d":12.71,"v":440},{"d":12.86,"v":740},{"d":12.99,"v":600},{"d":13.1,"v":160},{"d":13.15,"v":10},{"d":13.2,"v":60},{"d":13.25,"v":5},{"d":13.3,"v":80},{"d":13.35,"v":5},{"d":13.42,"v":50},{"d":13.46,"v":215},{"d":13.56,"v":1660},{"d":13.74,"v":4700},{"d":13.89,"v":2300},{"d":14.07,"v":1200},{"d":14.2,"v":440},{"d":14.26,"v":8},{"d":14.3,"v":600},{"d":14.51,"v":1200},{"d":14.71,"v":2300},{"d":14.92,"v":2900},{"d":15.05,"v":1660},{"d":15.18,"v":740},{"d":15.36,"v":440},{"d":15.61,"v":740},{"d":15.79,"v":1660},{"d":15.94,"v":740},{"d":16.13,"v":600},{"d":16.31,"v":600},{"d":16.46,"v":400},{"d":16.64,"v":1660},{"d":16.82,"v":3300},{"d":16.97,"v":2300},{"d":17.16,"v":740},{"d":17.34,"v":600},{"d":17.4,"v":5},{"d":17.44,"v":500},{"d":17.54,"v":300},{"d":17.6,"v":80},{"d":17.64,"v":200},{"d":17.75,"v":740},{"d":17.93,"v":600},{"d":18.11,"v":300},{"d":18.26,"v":215},{"d":18.34,"v":70},{"d":18.4,"v":300},{"d":18.57,"v":740},{"d":18.78,"v":2000},{"d":18.96,"v":1200},{"d":19.09,"v":600},{"d":19.16,"v":110},{"d":19.2,"v":5},{"d":19.24,"v":60},{"d":19.28,"v":5},{"d":19.32,"v":80},{"d":19.36,"v":5},{"d":19.4,"v":40},{"d":19.44,"v":5},{"d":19.5,"v":70},{"d":19.55,"v":90},{"d":19.73,"v":250},{"d":19.91,"v":600},{"d":20.07,"v":740},{"d":20.17,"v":380},{"d":20.24,"v":110},{"d":20.28,"v":5},{"d":20.32,"v":60},{"d":20.36,"v":5},{"d":20.4,"v":50},{"d":20.44,"v":5},{"d":20.5,"v":110},{"d":20.68,"v":250},{"d":20.83,"v":740},{"d":21.01,"v":1200},{"d":21.19,"v":600},{"d":21.27,"v":110},{"d":21.3,"v":5},{"d":21.34,"v":50},{"d":21.38,"v":5},{"d":21.42,"v":40},{"d":21.45,"v":5},{"d":21.53,"v":120},{"d":21.71,"v":440},{"d":21.86,"v":740},{"d":22.04,"v":800},{"d":22.22,"v":440},{"d":22.3,"v":110},{"d":22.34,"v":5},{"d":22.38,"v":50},{"d":22.42,"v":5},{"d":22.48,"v":160},{"d":22.64,"v":400},{"d":22.81,"v":850},{"d":22.99,"v":600}],
"pr":[{"d":8.0,"v":850},{"d":8.05,"v":700},{"d":8.08,"v":600},{"d":8.12,"v":110},{"d":8.16,"v":700},{"d":8.24,"v":1200},{"d":8.3,"v":400},{"d":8.34,"v":15},{"d":8.38,"v":500},{"d":8.42,"v":600},{"d":8.5,"v":700},{"d":8.6,"v":850},{"d":8.7,"v":600},{"d":8.8,"v":650},{"d":8.9,"v":550},{"d":9.0,"v":600},{"d":9.1,"v":650},{"d":9.2,"v":550},{"d":9.3,"v":600},{"d":9.4,"v":700},{"d":9.52,"v":850},{"d":9.62,"v":1660},{"d":9.7,"v":2900},{"d":9.78,"v":1200},{"d":9.88,"v":300},{"d":9.96,"v":400},{"d":10.04,"v":200},{"d":10.1,"v":150},{"d":10.16,"v":78},{"d":10.22,"v":30},{"d":10.26,"v":60},{"d":10.3,"v":10},{"d":10.34,"v":40},{"d":10.38,"v":8},{"d":10.42,"v":50},{"d":10.47,"v":200},{"d":10.55,"v":600},{"d":10.73,"v":850},{"d":10.94,"v":500},{"d":11.12,"v":250},{"d":11.24,"v":160},{"d":11.28,"v":60},{"d":11.32,"v":160},{"d":11.4,"v":120},{"d":11.45,"v":200},{"d":11.5,"v":150},{"d":11.55,"v":220},{"d":11.6,"v":130},{"d":11.65,"v":180},{"d":11.7,"v":110},{"d":11.75,"v":200},{"d":11.8,"v":140},{"d":11.85,"v":220},{"d":11.9,"v":120},{"d":11.95,"v":180},{"d":12.0,"v":100},{"d":12.05,"v":30},{"d":12.09,"v":150},{"d":12.14,"v":10},{"d":12.18,"v":200},{"d":12.22,"v":120},{"d":12.27,"v":180},{"d":12.32,"v":110},{"d":12.37,"v":200},{"d":12.42,"v":130},{"d":12.47,"v":170},{"d":12.53,"v":120},{"d":12.58,"v":200},{"d":12.61,"v":20},{"d":12.65,"v":180},{"d":12.7,"v":130},{"d":12.75,"v":220},{"d":12.8,"v":150},{"d":12.85,"v":200},{"d":12.9,"v":130},{"d":12.95,"v":180},{"d":13.0,"v":140},{"d":13.05,"v":200},{"d":13.1,"v":150},{"d":13.15,"v":230},{"d":13.2,"v":160},{"d":13.25,"v":210},{"d":13.3,"v":180},{"d":13.38,"v":250},{"d":13.51,"v":1200},{"d":13.64,"v":2300},{"d":13.76,"v":1660},{"d":13.89,"v":850},{"d":14.07,"v":500},{"d":14.2,"v":200},{"d":14.28,"v":6},{"d":14.32,"v":300},{"d":14.41,"v":400},{"d":14.59,"v":850},{"d":14.77,"v":1200},{"d":14.92,"v":850},{"d":15.1,"v":700},{"d":15.3,"v":850},{"d":15.43,"v":500},{"d":15.6,"v":700},{"d":15.69,"v":1200},{"d":15.94,"v":600},{"d":16.13,"v":700},{"d":16.31,"v":500},{"d":16.57,"v":850},{"d":16.72,"v":1300},{"d":16.9,"v":850},{"d":17.08,"v":500},{"d":17.23,"v":440},{"d":17.42,"v":400},{"d":17.67,"v":440},{"d":17.93,"v":300},{"d":18.18,"v":250},{"d":18.44,"v":600},{"d":18.7,"v":1500},{"d":18.88,"v":500},{"d":19.03,"v":200},{"d":19.16,"v":110},{"d":19.22,"v":30},{"d":19.26,"v":120},{"d":19.32,"v":50},{"d":19.38,"v":130},{"d":19.44,"v":40},{"d":19.5,"v":110},{"d":19.6,"v":150},{"d":19.73,"v":140},{"d":19.85,"v":180},{"d":19.99,"v":250},{"d":20.12,"v":200},{"d":20.24,"v":160},{"d":20.3,"v":60},{"d":20.37,"v":180},{"d":20.5,"v":140},{"d":20.63,"v":250},{"d":20.76,"v":400},{"d":20.9,"v":350},{"d":21.01,"v":440},{"d":21.14,"v":300},{"d":21.27,"v":160},{"d":21.35,"v":80},{"d":21.45,"v":110},{"d":21.55,"v":180},{"d":21.66,"v":250},{"d":21.78,"v":500},{"d":21.91,"v":600},{"d":22.04,"v":740},{"d":22.17,"v":550},{"d":22.3,"v":440},{"d":22.43,"v":300},{"d":22.56,"v":250},{"d":22.69,"v":300},{"d":22.81,"v":280},{"d":22.89,"v":200},{"d":22.99,"v":160}],
"p9":[{"d":8.0,"v":0.35},{"d":8.1,"v":0.3},{"d":8.2,"v":0.38},{"d":8.3,"v":0.3},{"d":8.4,"v":0.34},{"d":8.5,"v":0.28},{"d":8.6,"v":0.32},{"d":8.8,"v":0.27},{"d":9.0,"v":0.3},{"d":9.2,"v":0.25},{"d":9.4,"v":0.28},{"d":9.6,"v":0.24},{"d":9.8,"v":0.27},{"d":10.0,"v":0.22},{"d":10.3,"v":0.25},{"d":10.6,"v":0.21},{"d":11.0,"v":0.24},{"d":11.4,"v":0.2},{"d":11.8,"v":0.22},{"d":12.2,"v":0.19},{"d":12.6,"v":0.21},{"d":13.0,"v":0.19},{"d":13.5,"v":0.2},{"d":14.0,"v":0.18},{"d":14.5,"v":0.2},{"d":15.0,"v":0.18},{"d":15.5,"v":0.19},{"d":16.0,"v":0.18},{"d":16.5,"v":0.2},{"d":17.0,"v":0.18},{"d":17.5,"v":0.21},{"d":18.0,"v":0.18},{"d":18.5,"v":0.19},{"d":19.0,"v":0.18},{"d":19.5,"v":0.2},{"d":20.0,"v":0.18},{"d":20.5,"v":0.19},{"d":21.0,"v":0.18},{"d":21.5,"v":0.2},{"d":22.0,"v":0.18},{"d":22.5,"v":0.19},{"d":23.0,"v":0.18}]
},
"vconcat":[
{"width":583,"height":44,
 "encoding":{"x":{"field":"d","type":"quantitative","scale":{"domain":[8,23],"nice":false,"zero":false},"axis":{"values":[8,9,10,11,12,13,14,15,16,17,18,19,20,21,22,23],"title":null}}},
 "layer":[
  {"data":{"name":"xray"},"mark":{"type":"line","color":"#ff00ff","strokeWidth":1,"clip":true},
   "encoding":{"y":{"field":"v","type":"quantitative","scale":{"type":"log","domain":[1e-7,1e-3],"nice":false},"axis":{"values":[1e-6,1e-5,1e-4],"labelExpr":"datum.value < 3e-6 ? 'C' : datum.value < 3e-5 ? 'M' : 'X'","labelFontSize":10,"labelOverlap":false,"title":null}}}},
  {"data":{"name":"flares"},"mark":{"type":"point","shape":"circle","filled":true,"fill":"#9aa4ff","stroke":"#2828e0","strokeWidth":1,"size":22,"opacity":1},
   "encoding":{"y":{"field":"v","type":"quantitative"}}}
 ]},
{"width":583,"height":45,
 "encoding":{"x":{"field":"d","type":"quantitative","scale":{"domain":[8,23],"nice":false,"zero":false},"axis":{"values":[8,9,10,11,12,13,14,15,16,17,18,19,20,21,22,23],"title":null}}},
 "layer":[
  {"data":{"name":"wind"},"mark":{"type":"line","color":"#00e600","strokeWidth":1.6,"clip":true},
   "encoding":{"y":{"field":"v","type":"quantitative","scale":{"domain":[300,800],"nice":false,"zero":false},"axis":{"values":[400,500,600,700],"labelOverlap":false,"title":null}}}},
  {"data":{"name":"rt"},"transform":[{"filter":"datum.p == 2"}],"mark":{"type":"text","text":"rt","align":"left","baseline":"middle","dx":5,"fontSize":8,"fill":"#333"},
   "encoding":{"y":{"field":"v","type":"quantitative"}}}
 ]},
{"width":583,"height":45,
 "encoding":{"x":{"field":"d","type":"quantitative","scale":{"domain":[8,23],"nice":false,"zero":false},"axis":{"values":[8,9,10,11,12,13,14,15,16,17,18,19,20,21,22,23],"title":null}}},
 "layer":[
  {"data":{"name":"band"},"mark":{"type":"area","clip":true,"opacity":1},
   "encoding":{"y":{"field":"lo","type":"quantitative","stack":null,"scale":{"domain":[0,4],"nice":false,"zero":false},"axis":{"values":[1,2,3],"labelExpr":"datum.value == 3 ? 'T' : datum.value == 1 ? 'A' : ''","labelFontSize":12,"labelOverlap":false,"title":null}},"y2":{"field":"hi"},"detail":{"field":"s"},
    "color":{"field":"c","type":"nominal","scale":{"domain":["bA","bT","pA","pT","pG","lA","lR","lT"],"range":["#f8bdf2","#b6e9ff","#f6b0ee","#a8e2ff","#c6c6c6","#e03c3c","#5b8b5b","#5a6cf0"]},"legend":null}}},
  {"data":{"name":"scat"},"mark":{"type":"square","size":8,"opacity":1,"clip":true},
   "encoding":{"y":{"field":"v","type":"quantitative"},"color":{"field":"c","type":"nominal","legend":null}}},
  {"data":{"values":[{"v":2}]},"mark":{"type":"rule","color":"#666","strokeWidth":1},
   "encoding":{"x":{"datum":8},"x2":{"datum":23},"y":{"field":"v","type":"quantitative"}}},
  {"data":{"name":"sector"},"mark":{"type":"line","strokeWidth":1.2,"clip":true},
   "encoding":{"y":{"field":"v","type":"quantitative"},"detail":{"field":"s"},"color":{"field":"k","type":"nominal","legend":null}}},
  {"data":{"name":"rt"},"transform":[{"filter":"datum.p == 3"}],"mark":{"type":"text","text":"rt","align":"left","baseline":"middle","dx":5,"fontSize":8,"fill":"#333"},
   "encoding":{"y":{"field":"v","type":"quantitative"}}}
 ]},
{"width":583,"height":45,
 "encoding":{"x":{"field":"d","type":"quantitative","scale":{"domain":[8,23],"nice":false,"zero":false},"axis":{"values":[8,9,10,11,12,13,14,15,16,17,18,19,20,21,22,23],"title":null}},
   "y":{"field":"v","type":"quantitative","scale":{"domain":[-20,20],"nice":false,"zero":false},"axis":{"values":[-10,0,10],"labelOverlap":false,"title":null}}},
 "layer":[
  {"data":{"name":"bt"},"mark":{"type":"line","color":"#0000ff","strokeWidth":1.2,"clip":true}},
  {"data":{"values":[{"v":0}]},"mark":{"type":"rule","color":"#a00000","strokeWidth":1},
   "encoding":{"x":{"datum":8},"x2":{"datum":23}}},
  {"data":{"name":"bz"},"mark":{"type":"line","color":"#ff0000","strokeWidth":1.4,"clip":true}},
  {"data":{"name":"rt"},"transform":[{"filter":"datum.p == 4"}],"mark":{"type":"text","text":"rt","align":"left","baseline":"middle","dx":5,"fontSize":8,"fill":"#333"}}
 ]},
{"width":583,"height":45,
 "encoding":{"x":{"field":"d","type":"quantitative","scale":{"domain":[8,23],"nice":false,"zero":false},"axis":{"values":[8,9,10,11,12,13,14,15,16,17,18,19,20,21,22,23],"title":null}}},
 "layer":[
  {"data":{"values":[{"v":0}]},"mark":{"type":"rule","color":"#c97676","strokeWidth":3},
   "encoding":{"x":{"datum":8},"x2":{"datum":23},"y":{"field":"v","type":"quantitative","scale":{"domain":[-100,50],"nice":false},"axis":{"values":[-50,0],"labelOverlap":false,"title":null}}}},
  {"data":{"name":"dst"},"mark":{"type":"line","color":"#ee00ee","strokeWidth":1,"clip":true,"interpolate":"monotone"},
   "encoding":{"y":{"field":"v","type":"quantitative"}}}
 ]},
{"width":583,"height":44,
 "encoding":{"x":{"field":"d","type":"quantitative","scale":{"domain":[8,23],"nice":false,"zero":false},"axis":{"values":[8,9,10,11,12,13,14,15,16,17,18,19,20,21,22,23],"title":null}}},
 "layer":[
  {"data":{"name":"cyan"},"mark":{"type":"line","color":"#00eaea","strokeWidth":1.6,"clip":true},
   "encoding":{"y":{"field":"v","type":"quantitative","scale":{"domain":[0,60],"nice":false},"axis":{"values":[20,40],"labelOverlap":false,"title":null}}}}
 ]},
{"width":583,"height":46,
 "encoding":{"x":{"field":"d","type":"quantitative","scale":{"domain":[8,23],"nice":false,"zero":false},"axis":{"values":[8,9,10,11,12,13,14,15,16,17,18,19,20,21,22,23],"title":null}}},
 "layer":[
  {"data":{"name":"elec"},"mark":{"type":"line","color":"#a83ad6","strokeWidth":1.2,"clip":true},
   "encoding":{"y":{"field":"v","type":"quantitative","scale":{"type":"log","domain":[1e5,5e7],"nice":false},"axis":{"values":[1e6,1e7],"labelExpr":"datum.value == 1e7 ? '10⁷' : '10⁶'","labelOverlap":false,"title":null}}}},
  {"data":{"values":[{"v":1e6},{"v":1e7}]},"mark":{"type":"rule","color":"#cc1010","strokeWidth":1},
   "encoding":{"x":{"datum":8},"x2":{"datum":23},"y":{"field":"v","type":"quantitative"}}},
  {"data":{"name":"rt"},"transform":[{"filter":"datum.p == 7"}],"mark":{"type":"text","text":"rt","align":"left","baseline":"middle","dx":5,"fontSize":8,"fill":"#333"},
   "encoding":{"y":{"field":"v","type":"quantitative"}}}
 ]},
{"width":583,"height":45,
 "encoding":{"x":{"field":"d","type":"quantitative","scale":{"domain":[8,23],"nice":false,"zero":false},"axis":{"values":[8,9,10,11,12,13,14,15,16,17,18,19,20,21,22,23],"title":null}}},
 "layer":[
  {"data":{"name":"pb"},"mark":{"type":"line","color":"#0000ff","strokeWidth":1.2,"clip":true},
   "encoding":{"y":{"field":"v","type":"quantitative","scale":{"type":"log","domain":[10,1e5],"nice":false},"axis":{"values":[100,1000,10000],"labelExpr":"datum.value == 10000 ? '10⁴' : datum.value == 1000 ? '10³' : '10²'","labelOverlap":false,"title":null}}}},
  {"data":{"name":"pr"},"mark":{"type":"line","color":"#ff0000","strokeWidth":1.5,"clip":true},
   "encoding":{"y":{"field":"v","type":"quantitative"}}},
  {"data":{"values":[{"v":10000}]},"mark":{"type":"rule","color":"#e03030","strokeWidth":1.5,"strokeDash":[8,5]},
   "encoding":{"x":{"datum":8},"x2":{"datum":23},"y":{"field":"v","type":"quantitative"}}},
  {"data":{"name":"rt"},"transform":[{"filter":"datum.p == 8"}],"mark":{"type":"text","text":"rt","align":"left","baseline":"middle","dx":5,"fontSize":8,"fill":"#333"},
   "encoding":{"y":{"field":"v","type":"quantitative"}}}
 ]},
{"width":583,"height":44,
 "encoding":{"x":{"field":"d","type":"quantitative","scale":{"domain":[8,23],"nice":false,"zero":false},"axis":{"values":[8,9,10,11,12,13,14,15,16,17,18,19,20,21,22],"labels":true,"labelOffset":18,"labelFlush":false,"labelOverlap":false,"labelPadding":5,"domainWidth":2,"labelExpr":"'6/' + (datum.value < 10 ? '\u2007' : '') + datum.value","title":"2026","titleX":-3,"titleY":16,"titleAlign":"right","titleBaseline":"alphabetic","titleFontWeight":"normal","titleFontSize":11,"titleColor":"#222","titleAnchor":"start"}}},
 "layer":[
  {"data":{"name":"p9"},"mark":{"type":"line","color":"#0000ff","strokeWidth":1.2,"clip":true},
   "encoding":{"y":{"field":"v","type":"quantitative","scale":{"type":"log","domain":[0.1,1e5],"nice":false},"axis":{"values":[1,100,10000],"labelExpr":"datum.value == 10000 ? '10⁴' : datum.value == 100 ? '10²' : '10⁰'","labelOverlap":false,"title":null}}}}
 ]}
]
}
